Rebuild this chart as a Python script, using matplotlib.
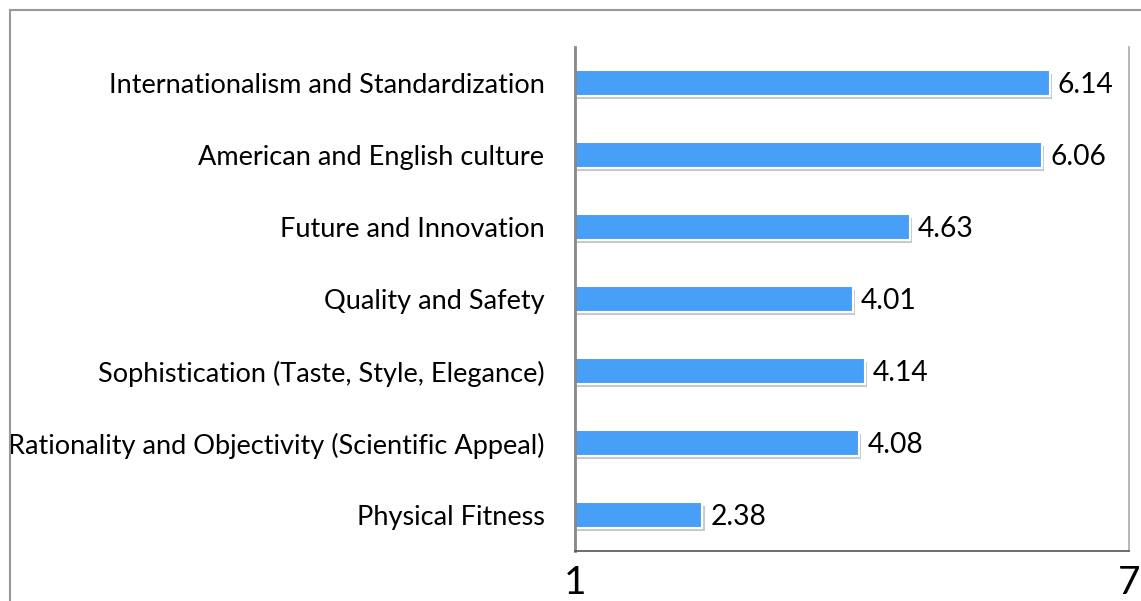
import matplotlib
matplotlib.use('Agg')
import matplotlib.pyplot as plt
import matplotlib.patheffects as pe
from matplotlib.lines import Line2D
import numpy as np

categories = ['Internationalism and Standardization',
              'American and English culture',
              'Future and Innovation',
              'Quality and Safety',
              'Sophistication (Taste, Style, Elegance)',
              'Rationality and Objectivity (Scientific Appeal)',
              'Physical Fitness']
values = [6.14, 6.06, 4.63, 4.01, 4.14, 4.08, 2.38]
x_min, x_max = 1, 7

plt.rcParams['font.family'] = ['Lato', 'DejaVu Sans']

fig = plt.figure(figsize=(11.41, 6.01), dpi=100)
ax = fig.add_axes([575/1141, 1-551/601, (1129-575)/1141, (551-47)/601])

y = np.arange(len(categories))
vals = np.array(values)
shadow = pe.SimplePatchShadow(offset=(1.5, -2.5), shadow_rgbFace='#777777', alpha=0.4)
bars = ax.barh(y, vals - x_min, left=x_min, height=0.36, color='#479ff8',
               edgecolor='white', linewidth=1.5,
               path_effects=[shadow, pe.Normal()])
for yi, v in zip(y, vals):
    ax.text(v + 0.085, yi + 0.03, '%.2f' % v, va='center', ha='left', fontsize=20.3)

ax.set_xlim(x_min, x_max)
ax.set_ylim(len(categories) - 0.5, -0.5)
ax.set_xticks([x_min, x_max])
ax.set_xticklabels(['1', '7'], fontsize=28)
ax.tick_params(axis='x', length=0, pad=10)
ax.set_yticks(y)
ax.set_yticklabels(categories, fontsize=19.5)
ax.tick_params(axis='y', length=0, pad=22)

ax.spines['top'].set_visible(False)
ax.spines['left'].set_color('#888888')
ax.spines['left'].set_linewidth(2)
ax.spines['right'].set_color('#aaaaaa')
ax.spines['right'].set_linewidth(1.2)
ax.spines['bottom'].set_color('#555555')
ax.spines['bottom'].set_linewidth(1.2)

# outer frame (left and top edges)
fx = 9.5/1141
fy = 1 - 9.5/601
fig.add_artist(Line2D([fx, fx], [0, fy], color='#999999', lw=1.5))
fig.add_artist(Line2D([fx, 1], [fy, fy], color='#999999', lw=1.5))

fig.savefig('out.png', dpi=100)
